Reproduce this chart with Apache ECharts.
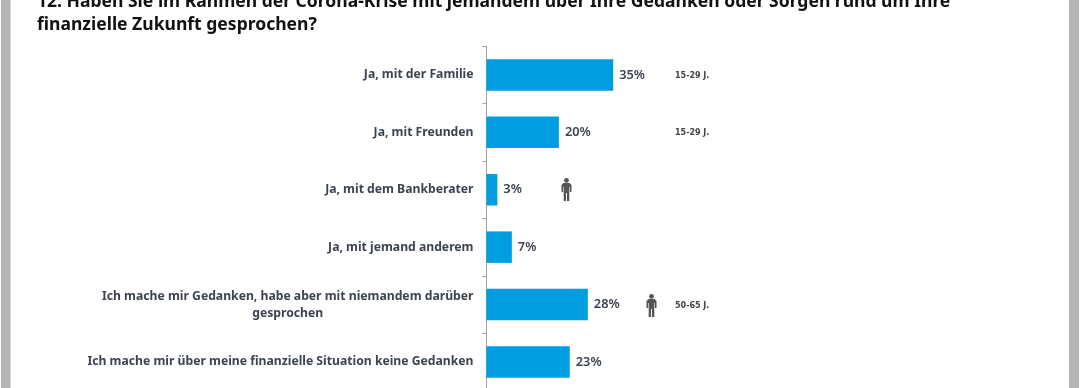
<!DOCTYPE html>
<html>
<head>
<meta charset="utf-8">
<style>html,body{margin:0;padding:0;background:#fff}#main{width:1080px;height:388px}</style>
<script src="https://cdn.jsdelivr.net/npm/echarts@6/dist/echarts.min.js"></script>
</head>
<body>
<div id="main"></div>
<script>
var categories = [
    'Ja, mit der Familie',
    'Ja, mit Freunden',
    'Ja, mit dem Bankberater',
    'Ja, mit jemand anderem',
    'Ich mache mir Gedanken, habe aber mit niemandem darüber\ngesprochen',
    'Ich mache mir über meine finanzielle Situation keine Gedanken'
];
var values = [35, 20, 3, 7, 28, 23];
var titleLines = [
    '12. Haben Sie im Rahmen der Corona-Krise mit jemandem über Ihre Gedanken oder Sorgen rund um Ihre',
    'finanzielle Zukunft gesprochen?'
];
var ageNotes = [['15-29 J.', 75.5], ['15-29 J.', 132.5], ['50-65 J.', 305.5]];
var personIcons = [[561.5, 178], [646.5, 294]];

var fontName = '"Noto Sans", sans-serif';
// kleines Maennchen, 10 x 23
var personBody = [[2, 5], [8, 5], [10, 7], [10, 14], [8.4, 14], [8.4, 9], [7.8, 9], [7.8, 23], [5.5, 23], [5.5, 15], [4.5, 15], [4.5, 23], [2.2, 23], [2.2, 9], [1.6, 9], [1.6, 14], [0, 14], [0, 7]];

var myChart = echarts.init(document.getElementById('main'));

var graphics = [
    { type: 'rect', shape: { x: 1, y: 0, width: 9.5, height: 388 }, style: { fill: '#b5b5b5' } },
    { type: 'rect', shape: { x: 1069, y: 0, width: 10, height: 388 }, style: { fill: '#b5b5b5' } }
];
titleLines.forEach(function (line, i) {
    graphics.push({
        type: 'text', x: 37, y: i * 23 - 6.5,
        style: { text: line, font: 'bold 17.55px ' + fontName, fill: '#111', textVerticalAlign: 'top' }
    });
});
ageNotes.forEach(function (n) {
    graphics.push({
        type: 'text', x: 675, y: n[1],
        style: { text: n[0], font: 'bold 8px "DejaVu Sans"', fill: '#444', textVerticalAlign: 'middle' }
    });
});
personIcons.forEach(function (p) {
    graphics.push({ type: 'circle', x: p[0], y: p[1], shape: { cx: 5, cy: 2.4, r: 2.4 }, style: { fill: '#555' } });
    graphics.push({ type: 'polygon', x: p[0], y: p[1], shape: { points: personBody }, style: { fill: '#555' } });
});

myChart.setOption({
    animation: false,
    // das Raster laeuft unten ueber den Bildrand hinaus
    grid: { left: 486.5, top: 46.25, width: 362, height: 344.4, outerBoundsMode: 'none' },
    xAxis: { type: 'value', min: 0, max: 100, show: false },
    yAxis: {
        type: 'category',
        inverse: true,
        data: categories,
        axisLine: { show: true, lineStyle: { color: '#a0a0a0', width: 1 } },
        axisTick: { show: true, length: 4, lineStyle: { color: '#a0a0a0', width: 1 } },
        axisLabel: {
            margin: 13,
            formatter: function (v) {
                return v.split('\n').map(function (p) { return '{c|' + p + '}'; }).join('\n');
            },
            rich: {
                c: { align: 'center', fontFamily: fontName, fontWeight: 'bold', fontSize: 12.2, lineHeight: 17, color: '#3c4450' }
            }
        }
    },
    series: [{
        type: 'bar',
        data: values,
        barWidth: 31.5,
        itemStyle: { color: '#009de0' },
        label: {
            show: true, position: 'right', distance: 6,
            formatter: '{c}%', fontFamily: fontName, fontWeight: 600, fontSize: 12.8, color: '#3c4450'
        }
    }],
    graphic: graphics
});
</script>
</body>
</html>
